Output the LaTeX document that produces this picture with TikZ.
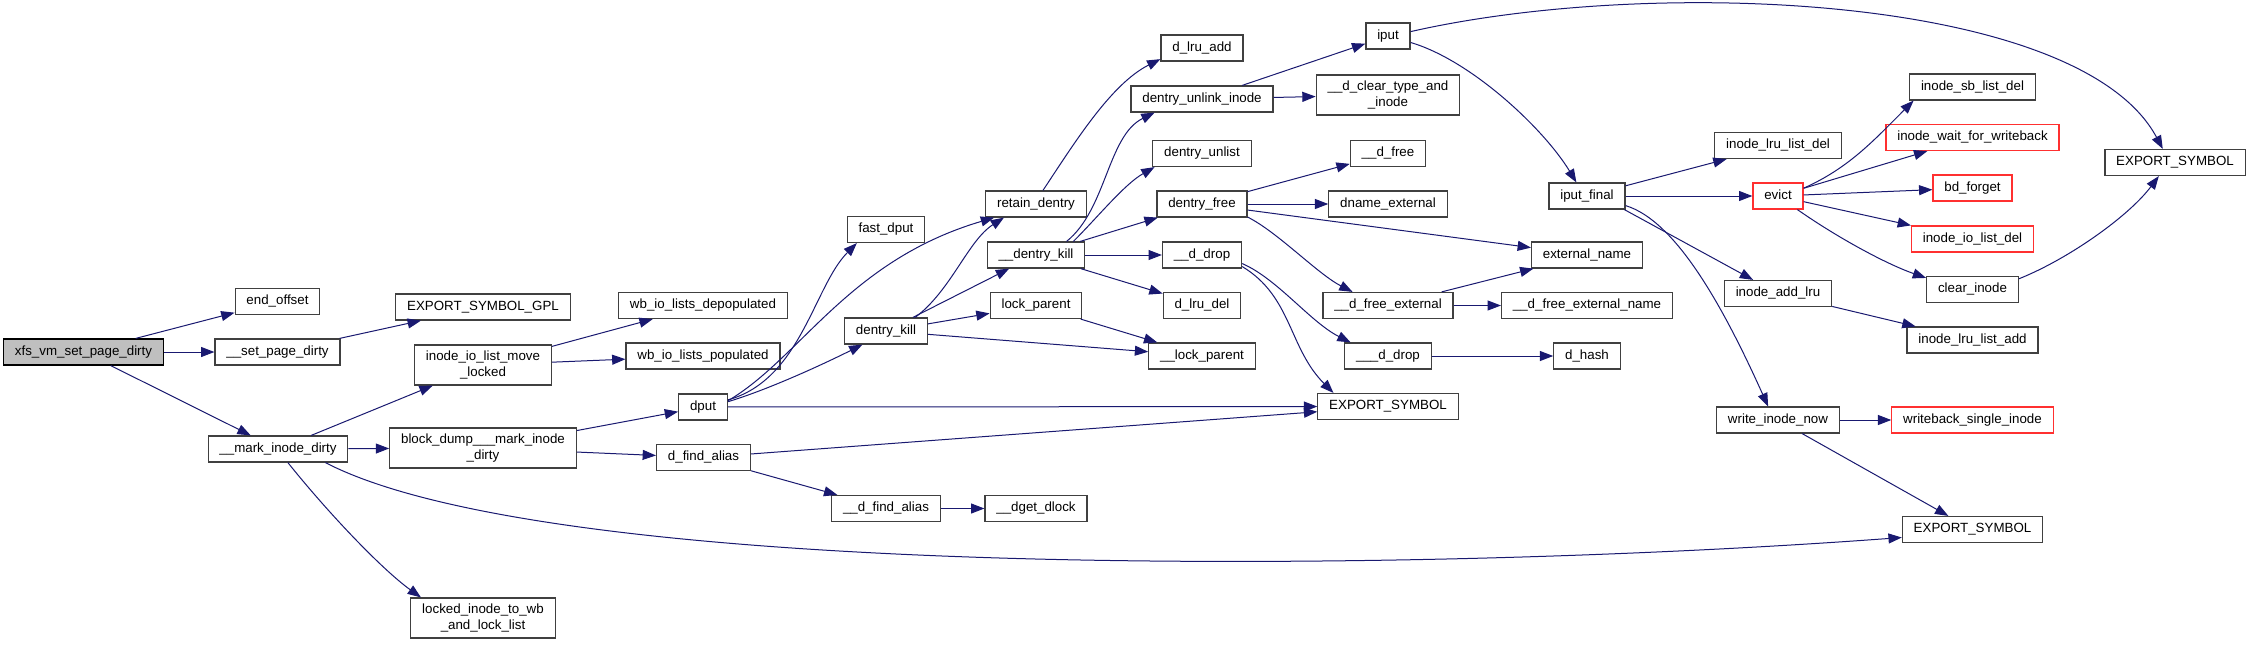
\documentclass[tikz,border=0pt]{standalone}
\usepackage{fontspec}
\setmainfont{Liberation Sans}
\usepackage{xcolor}
\usetikzlibrary{arrows.meta}
\definecolor{edgeblue}{HTML}{191970}
\definecolor{frame}{HTML}{404040}
\definecolor{trunc}{HTML}{FF3030}
\definecolor{rootgrey}{HTML}{BFBFBF}

\begin{document}
\begin{tikzpicture}[
  x=0.75pt, y=0.75pt,
  >={Triangle[length=10pt, width=7.5pt]},
  fnbase/.style={draw=frame, fill=white, line width=0.9pt, inner xsep=8.5pt, inner ysep=2pt, font=\fontsize{10}{12}\selectfont},
  fn/.style={fnbase, minimum height=19.5pt, text height=7.4pt, text depth=2.2pt},
  fnwrap/.style={fnbase, minimum height=30pt, align=center},
  fnred/.style={fn, draw=trunc},
  fnroot/.style={fn, draw=black, fill=rootgrey},
  arr/.style={->, line width=0.75pt, color=edgeblue},
]
\useasboundingbox (0,0) rectangle (2249,-644);
\fill[white] (0,0) rectangle (2249,-644);

\node[fnroot] (root) at (83.5,-352) {xfs\_vm\_set\_page\_dirty};

\node[fn] (endoff) at (277.5,-301.5) {end\_offset};
\node[fn] (setpd) at (277.5,-352) {\_\_set\_page\_dirty};
\node[fn] (markid) at (278,-449) {\_\_mark\_inode\_dirty};

\node[fn] (esgpl) at (483,-307) {EXPORT\_SYMBOL\_GPL};
\node[fnwrap] (iolml) at (483,-365) {inode\_io\_list\_move\\\_locked};
\node[fnwrap] (bdmid) at (483,-448) {block\_dump\_\_\_mark\_inode\\\_dirty};
\node[fnwrap] (lockwb) at (483,-618) {locked\_inode\_to\_wb\\\_and\_lock\_list};

\node[fn] (wbdep) at (703,-305.5) {wb\_io\_lists\_depopulated};
\node[fn] (wbpop) at (703,-356) {wb\_io\_lists\_populated};
\node[fn] (dput) at (703,-407) {dput};
\node[fn] (dfa) at (703.5,-457.5) {d\_find\_alias};

\node[fn] (fdput) at (886,-229.5) {fast\_dput};
\node[fn] (dkill) at (886,-331) {dentry\_kill};
\node[fn] (udfa) at (886,-508.5) {\_\_d\_find\_alias};

\node[fn] (retd) at (1036,-204) {retain\_dentry};
\node[fn] (udkill) at (1036,-255) {\_\_dentry\_kill};
\node[fn] (lockp) at (1036,-305.5) {lock\_parent};
\node[fn] (dgetdl) at (1036,-508.5) {\_\_dget\_dlock};

\node[fn] (dlruadd) at (1202,-48) {d\_lru\_add};
\node[fn] (dunlink) at (1202,-99) {dentry\_unlink\_inode};
\node[fn] (dunlist) at (1202,-153.5) {dentry\_unlist};
\node[fn] (dfree) at (1202,-204) {dentry\_free};
\node[fn] (uddrop) at (1202,-255) {\_\_d\_drop};
\node[fn] (dlrudel) at (1202,-305.5) {d\_lru\_del};
\node[fn] (ulockp) at (1202,-356) {\_\_lock\_parent};

\node[fn] (iput) at (1388,-36) {iput};
\node[fnwrap] (dclear) at (1388,-95) {\_\_d\_clear\_type\_and\\\_inode};
\node[fn] (udfree) at (1388,-153.5) {\_\_d\_free};
\node[fn] (dnamex) at (1388,-204) {dname\_external};
\node[fn] (dfreex) at (1388,-305.5) {\_\_d\_free\_external};
\node[fn] (udddrop) at (1388,-356) {\_\_\_d\_drop};
\node[fn] (esmid) at (1388,-406.5) {EXPORT\_SYMBOL};

\node[fn] (iputf) at (1587,-196) {iput\_final};
\node[fn] (extname) at (1587,-255) {external\_name};
\node[fn] (dfreexn) at (1587,-305.5) {\_\_d\_free\_external\_name};
\node[fn] (dhash) at (1587,-356) {d\_hash};

\node[fn] (ilrudel) at (1778,-145.5) {inode\_lru\_list\_del};
\node[fnred] (evict) at (1778,-196) {evict};
\node[fn] (iaddlru) at (1778,-293.5) {inode\_add\_lru};
\node[fn] (winow) at (1778,-420) {write\_inode\_now};

\node[fn] (isbdel) at (1972.5,-87) {inode\_sb\_list\_del};
\node[fnred] (iwait) at (1972.5,-137.5) {inode\_wait\_for\_writeback};
\node[fnred] (bdforget) at (1972.5,-188) {bd\_forget};
\node[fnred] (iiodel) at (1972.5,-239) {inode\_io\_list\_del};
\node[fn] (clearin) at (1972.5,-289.5) {clear\_inode};
\node[fn] (ilruadd) at (1972.5,-340) {inode\_lru\_list\_add};
\node[fnred] (wbsingle) at (1972.5,-420) {writeback\_single\_inode};
\node[fn] (eslow) at (1972.5,-529.5) {EXPORT\_SYMBOL};

\node[fn] (esright) at (2175,-162.5) {EXPORT\_SYMBOL};

\draw[arr] (root) -- (endoff);
\draw[arr] (root) -- (setpd);
\draw[arr] (root) -- (markid);
\draw[arr] (setpd) -- (esgpl);

\draw[arr] (markid) -- (iolml);
\draw[arr] (markid) -- (bdmid);
\draw[arr] (markid.-16) .. controls +(227,-118) and +(-500,-37) .. ([yshift=-6pt]eslow.west);
\draw[arr] (markid.-54) .. controls +(40,-50) and +(-39,28) .. ([xshift=8pt]lockwb.north west);

\draw[arr] (iolml) -- (wbdep);
\draw[arr] (iolml) -- (wbpop);
\draw[arr] (bdmid) -- (dput);
\draw[arr] (bdmid) -- (dfa);

\draw[arr] (dput.16) .. controls +(73,20) and +(-43,-43) .. (fdput.205);
\draw[arr] (dput.14) .. controls +(73,43) and +(-146,-43) .. (retd.198);
\draw[arr] (dput.12) .. controls +(40,12) and +(-40,-20) .. (dkill.210);
\draw[arr] (dput) -- (esmid);
\draw[arr] (dfa) -- (udfa);
\draw[arr] (dfa) -- (esmid);
\draw[arr] (udfa) -- (dgetdl);

\draw[arr] (dkill.25) .. controls +(36,27) and +(-36,-23) .. (retd.203);
\draw[arr] (dkill) -- (udkill);
\draw[arr] (dkill) -- (lockp);
\draw[arr] (dkill) -- (ulockp);

\draw[arr] (retd.63) .. controls +(30,45) and +(-50,-25) .. (dlruadd.195);
\draw[arr] (udkill.24) .. controls +(40,32) and +(-47,-23) .. (dunlink.196);
\draw[arr] (udkill.20) .. controls +(25,25) and +(-30,-17) .. (dunlist.196);
\draw[arr] (udkill) -- (dfree);
\draw[arr] (udkill) -- (uddrop);
\draw[arr] (udkill) -- (dlrudel);
\draw[arr] (lockp) -- (ulockp);

\draw[arr] (dunlink) -- (iput);
\draw[arr] (dunlink) -- (dclear);
\draw[arr] (dfree) -- (udfree);
\draw[arr] (dfree) -- (dnamex);
\draw[arr] (dfree) -- (extname);
\draw[arr] (dfree.-16) .. controls +(30,-15) and +(-35,18) .. (dfreex.159);
\draw[arr] (uddrop.-12) .. controls +(35,-15) and +(-40,20) .. (udddrop.160);
\draw[arr] (uddrop.-16) .. controls +(50,-30) and +(-45,45) .. (esmid.166);

\draw[arr] (dfreex) -- (extname);
\draw[arr] (dfreex) -- (dfreexn);
\draw[arr] (udddrop) -- (dhash);

\draw[arr] (iput.11) .. controls +(241,55) and +(-83,155) .. (esright.132);
\draw[arr] (iput.-16) .. controls +(61,-18) and +(-32,53) .. (iputf.128);

\draw[arr] (iputf) -- (ilrudel);
\draw[arr] (iputf) -- (evict);
\draw[arr] (iputf.-20) -- (iaddlru);
\draw[arr] (iputf.-14) .. controls +(50,-15) and +(-45,100) .. (winow.126);

\draw[arr] (evict.17) .. controls +(45,20) and +(-40,-40) .. (isbdel.193);
\draw[arr] (evict) -- (iwait);
\draw[arr] (evict) -- (bdforget);
\draw[arr] (evict) -- (iiodel);
\draw[arr] (evict.-35) .. controls +(40,-28) and +(-40,14) .. (clearin.166);
\draw[arr] (clearin.13) .. controls +(50,20) and +(-30,-40) .. (esright.220);

\draw[arr] (iaddlru) -- (ilruadd);
\draw[arr] (winow) -- (wbsingle);
\draw[arr] (winow) -- (eslow);

\end{tikzpicture}
\end{document}
